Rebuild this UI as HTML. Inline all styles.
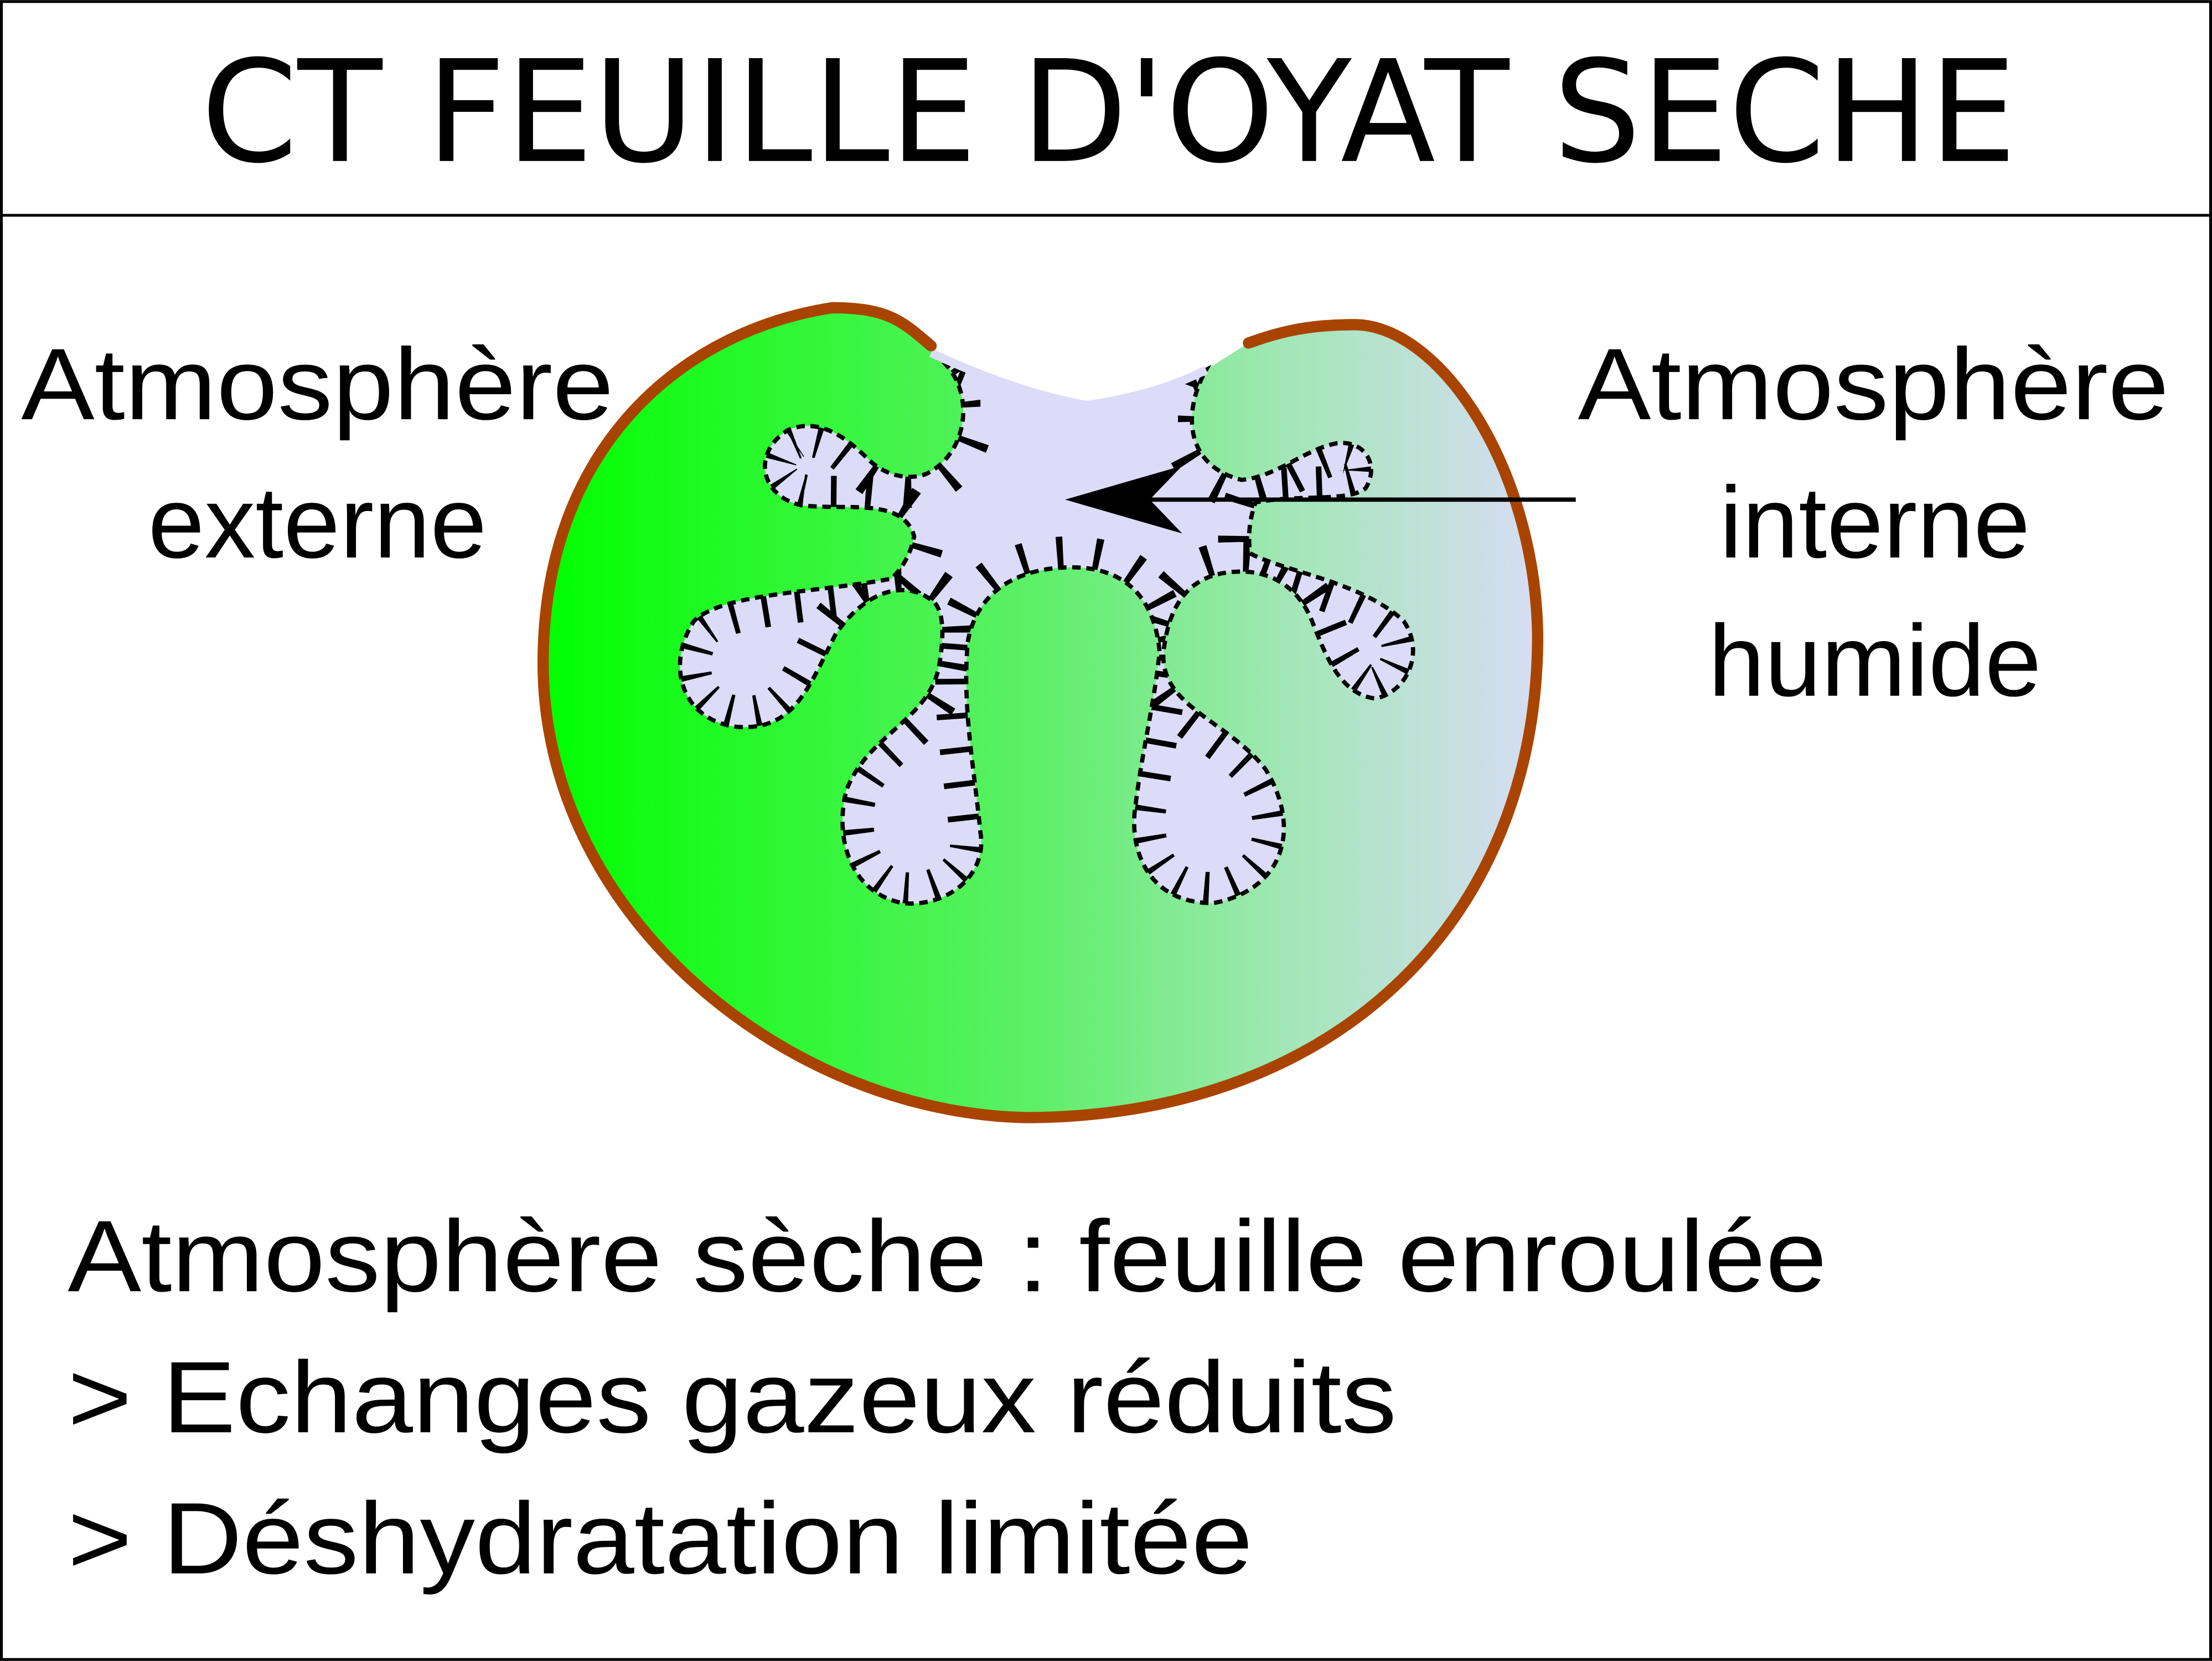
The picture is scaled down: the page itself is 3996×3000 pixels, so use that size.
<!DOCTYPE html>
<html><head><meta charset="utf-8"><style>
html,body{margin:0;padding:0;background:#fff}
svg{display:block}
text{font-family:"Liberation Sans",sans-serif;fill:#000}
.t{font-family:"DejaVu Sans","Liberation Sans",sans-serif}
</style></head><body>
<svg width="3996" height="3000" viewBox="0 0 1568 1177" xmlns="http://www.w3.org/2000/svg">
<defs>
<linearGradient id="g" x1="385" y1="0" x2="1095" y2="0" gradientUnits="userSpaceOnUse">
<stop offset="0" stop-color="#00ff00"/>
<stop offset="0.5" stop-color="#5fef6a"/>
<stop offset="0.75" stop-color="#a4e6b8"/>
<stop offset="1" stop-color="#d8dcf6"/>
</linearGradient>
<path id="cav" d="M660 250 Q720 278 770 287 Q820 280 855 262 C838 292 840 330 880 340 C905 338 925 318 948 314 C968 312 978 330 968 346 C955 356 920 350 890 356 C885 370 885 380 886 392 C910 405 965 412 995 440 C1010 462 998 490 975 495 C950 492 940 465 930 440 C920 415 900 405 880 405 C850 405 830 420 825 460 C820 500 870 510 897 545 C922 585 912 630 860 640 C812 640 800 600 805 570 C810 530 818 500 822 462 C818 418 792 402 760 402 C720 402 692 420 686 455 C682 500 690 540 695 590 C700 620 672 643 640 640 C600 632 592 590 600 560 C615 520 660 510 666 470 C670 445 668 430 660 425 C640 410 612 420 592 450 C572 490 562 518 522 515 C482 510 472 470 492 440 C512 420 580 420 632 410 C642 400 646 390 648 380 C640 352 600 362 568 358 C540 352 532 322 558 305 C580 295 600 310 615 325 C628 338 645 340 656 336 C690 320 692 268 660 250 Z"/>
<clipPath id="cc"><use href="#cav"/></clipPath>
</defs>
<rect x="1" y="1" width="1566" height="1175" fill="#fff" stroke="#000" stroke-width="2"/>
<line x1="0" y1="152.5" x2="1568" y2="152.5" stroke="#000" stroke-width="2"/>
<text class="t" x="786" y="114" font-size="100" text-anchor="middle" textLength="1287" lengthAdjust="spacingAndGlyphs">CT FEUILLE D'OYAT SECHE</text>

<path d="M660 245 C640 228 630 218 590 218 C480 235 385 320 385 470 C385 650 560 790 730 792 C950 790 1090 650 1090 450 C1088 330 1020 230 960 230 C920 230 900 238 885 243 L855 262 Q820 280 770 287 Q720 278 660 250 Z" fill="url(#g)"/>
<use href="#cav" fill="#dcdcf8"/>
<g clip-path="url(#cc)"><use href="#cav" fill="none" stroke="#000" stroke-width="44" stroke-dasharray="4 20"/></g>
<use href="#cav" fill="none" stroke="#000" stroke-width="3" stroke-dasharray="6 4"/>
<path d="M695 262 Q730 280 770 287 Q810 280 835 270 L835 312 L695 312 Z" fill="#dcdcf8"/>
<path d="M660 250 Q720 278 770 287 Q820 280 855 262" fill="none" stroke="#dcdcf8" stroke-width="6"/>
<path d="M660 245 C640 228 630 218 590 218 C480 235 385 320 385 470 C385 650 560 790 730 792 C950 790 1090 650 1090 450 C1088 330 1020 230 960 230 C920 230 900 238 885 243" fill="none" stroke="#a94400" stroke-width="8" stroke-linecap="round"/>

<line x1="1117" y1="354" x2="815" y2="354" stroke="#000" stroke-width="3"/>
<path d="M755 354 L838 330 L815 354 L838 378 Z" fill="#000"/>

<text x="225" y="297" font-size="72" text-anchor="middle" textLength="420" lengthAdjust="spacingAndGlyphs">Atmosphère</text>
<text x="225" y="395" font-size="72" text-anchor="middle">externe</text>
<text x="1328" y="297" font-size="72" text-anchor="middle" textLength="419" lengthAdjust="spacingAndGlyphs">Atmosphère</text>
<text x="1329" y="395" font-size="72" text-anchor="middle">interne</text>
<text x="1329" y="493" font-size="72" text-anchor="middle">humide</text>

<text x="48" y="915" font-size="72" textLength="1247" lengthAdjust="spacingAndGlyphs">Atmosphère sèche : feuille enroulée</text>
<text x="48" y="1015" font-size="72" textLength="942" lengthAdjust="spacingAndGlyphs">&gt; Echanges gazeux réduits</text>
<text x="48" y="1115" font-size="72" textLength="840" lengthAdjust="spacingAndGlyphs">&gt; Déshydratation limitée</text>
</svg>
</body></html>
